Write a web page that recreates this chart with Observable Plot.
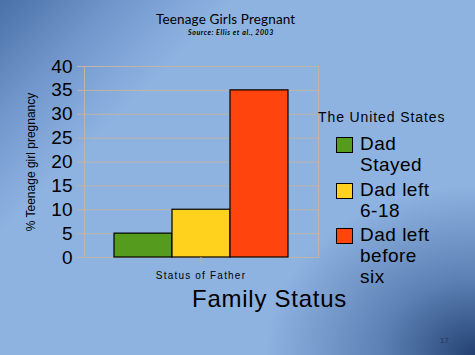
<!DOCTYPE html>
<html>
<head>
<meta charset="utf-8">
<script src="https://cdn.jsdelivr.net/npm/d3@7"></script>
<script src="https://cdn.jsdelivr.net/npm/@observablehq/plot@0.6"></script>
<style>
  html, body { margin: 0; padding: 0; }
  #page {
    position: relative; width: 475px; height: 355px; overflow: hidden;
    background:
      radial-gradient(ellipse 210px 170px at 475px 355px, rgba(30,60,110,0.95) 0%, rgba(60,95,150,0.6) 45%, rgba(142,179,225,0) 100%),
      linear-gradient(135deg, #4a72a8 0%, #7196cc 14%, #8eb3e1 28%, #8eb3e1 100%);
    font-family: "Liberation Sans", Arial, sans-serif;
  }
  #chart { position: absolute; left: 0; top: 0; }
  .t { position: absolute; white-space: nowrap; color: #000; }
  .sw { position: absolute; width: 15px; height: 14px; border: 1px solid #000; }
</style>
</head>
<body>
<div id="page">
  <div id="chart"></div>
  <div class="t" style="left:156px;top:11px;font-family:Lato;font-size:13.5px;letter-spacing:0.15px;">Teenage Girls Pregnant</div>
  <div class="t" style="left:188px;top:28px;font-family:Lato;font-size:7px;font-weight:bold;font-style:italic;letter-spacing:0.6px;">Source: Ellis et al., 2003</div>
  <div id="legend"></div>
  <div class="t" style="left:192px;top:285px;font-size:24px;letter-spacing:0.75px;">Family Status</div>
  <div class="t" style="left:440px;top:336px;font-size:8px;color:#2a3550;">17</div>
</div>
<script>
const categories = ["Dad Stayed", "Dad left 6-18", "Dad left before six"];
const values = [5, 10, 35];
const colors = ["#559B1E", "#FFD21E", "#FF440E"];
const legendLines = [["Dad", "Stayed"], ["Dad left", "6-18"], ["Dad left", "before", "six"]];
const yTicks = [0, 5, 10, 15, 20, 25, 30, 35, 40];
const groupLabel = "Status of Father";
const legendTitle = "The United States";

const data = categories.map((c, i) => ({category: c, value: values[i]}));

const chart = Plot.plot({
  width: 475,
  height: 355,
  marginLeft: 84,
  marginRight: 157,
  marginTop: 66,
  marginBottom: 98,
  style: {background: "transparent", fontFamily: "Liberation Sans, Arial, sans-serif", color: "#000", overflow: "visible"},
  x: {domain: categories, range: [113, 289], padding: 0, axis: null},
  y: {domain: [0, 40]},
  color: {domain: categories, range: colors},
  marks: [
    Plot.gridY(yTicks, {stroke: "#bdb5a6", strokeOpacity: 1, strokeWidth: 1}),
    Plot.frame({stroke: "#bdb5a6", strokeWidth: 1}),
    Plot.axisY(yTicks, {
      tickSize: 7, tickPadding: 5, stroke: "#bdb5a6", fontSize: 19,
      tickFormat: d => String(d),
      label: "% Teenage girl pregnancy", labelAnchor: "center", labelArrow: "none",
      labelOffset: 57
    }),
    Plot.barY(data, {x: "category", y: "value", fill: "category", stroke: "#000", strokeWidth: 1.2})
  ]
});
document.getElementById("chart").appendChild(chart);

const svg = d3.select(chart);
svg.selectAll("g[aria-label='y-axis label'] text").attr("font-size", 12).attr("dy", "-0.1em");
// single category tick and its label, centred on the group of bars
const xs = chart.scale("x");
const cx = (xs.apply(categories[0]) + xs.apply(categories[2]) + xs.bandwidth) / 2;
svg.append("line").attr("x1", cx).attr("x2", cx).attr("y1", 257).attr("y2", 263)
  .attr("stroke", "#bdb5a6");
svg.append("text").attr("x", cx).attr("y", 279).attr("text-anchor", "middle")
  .attr("font-size", 10).attr("letter-spacing", 1.2).attr("font-family", "Liberation Sans, Arial, sans-serif")
  .text(groupLabel);

// legend
const leg = document.getElementById("legend");
const title = document.createElement("div");
title.className = "t";
title.style.cssText = "left:318px;top:109px;font-size:14px;letter-spacing:0.9px;";
title.textContent = legendTitle;
leg.appendChild(title);
const swTops = [137, 183, 228];
categories.forEach((c, i) => {
  const sw = document.createElement("div");
  sw.className = "sw";
  sw.style.left = "336px"; sw.style.top = swTops[i] + "px";
  sw.style.background = colors[i];
  leg.appendChild(sw);
  const tx = document.createElement("div");
  tx.className = "t";
  tx.style.cssText = `left:360px;top:${swTops[i] - 4}px;font-size:19px;line-height:21px;letter-spacing:0.5px;`;
  tx.innerHTML = legendLines[i].join("<br>");
  leg.appendChild(tx);
});
</script>
</body>
</html>
